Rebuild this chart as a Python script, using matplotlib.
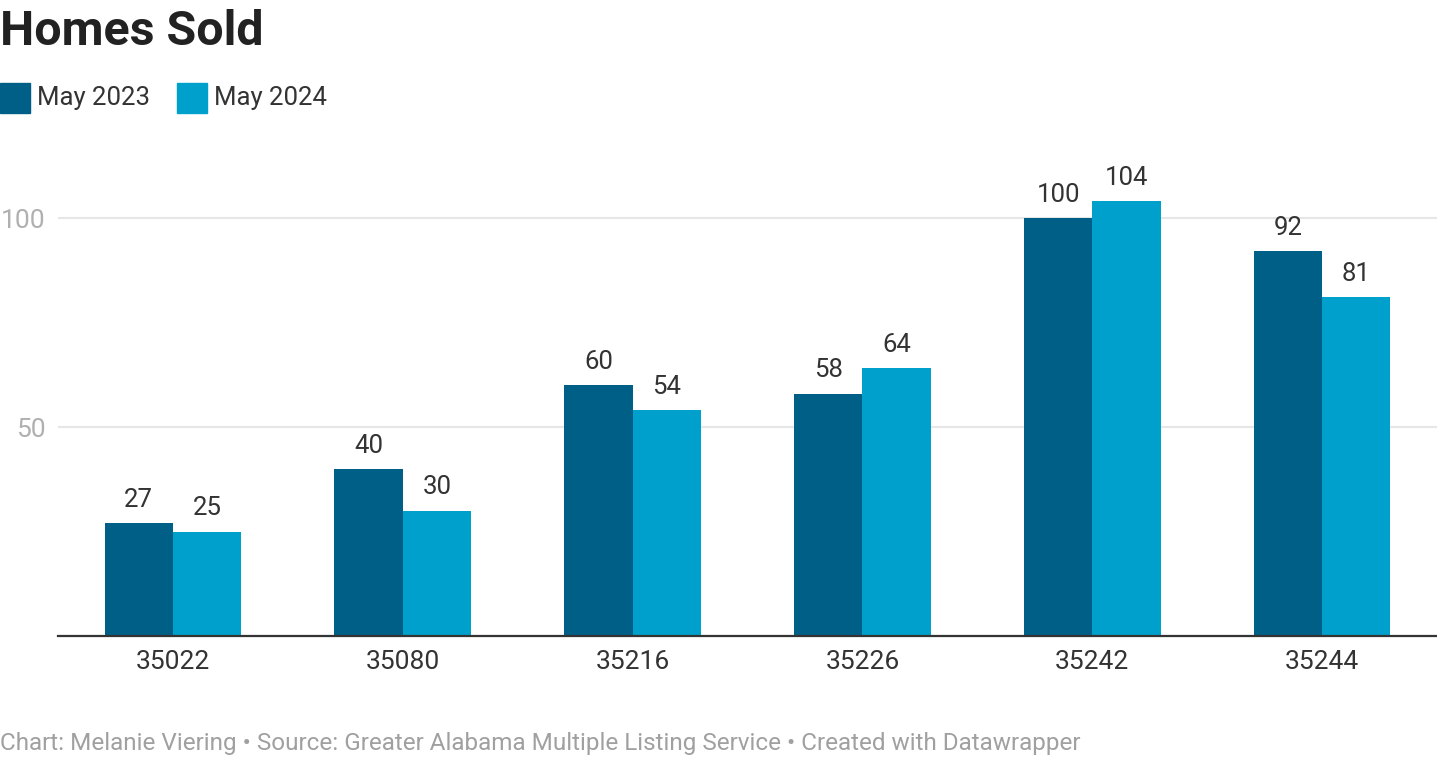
import matplotlib
matplotlib.use("Agg")
import numpy as np
import matplotlib.pyplot as plt
from matplotlib.patches import Rectangle

# Data
zips = ["35022", "35080", "35216", "35226", "35242", "35244"]
sold_2023 = [27, 40, 60, 58, 100, 92]
sold_2024 = [25, 30, 54, 64, 104, 81]
series_names = ["May 2023", "May 2024"]
yticks = [50, 100]

dark = "#005f87"
light = "#00a0cc"
text_col = "#333333"

plt.rcParams['font.family'] = ['Roboto', 'DejaVu Sans']

W, H = 1437, 759
fig = plt.figure(figsize=(W / 100, H / 100), dpi=100)
ax = fig.add_axes([58 / W, 1 - 636 / H, 1 - 58 / W, (636 - 155.3) / H])

x = np.arange(len(zips))
bw = 0.297
b1 = ax.bar(x - bw / 2, sold_2023, bw, color=dark, zorder=3)
b2 = ax.bar(x + bw / 2, sold_2024, bw, color=light, zorder=3)

for bars, vals in ((b1, sold_2023), (b2, sold_2024)):
    for r, v in zip(bars, vals):
        ax.annotate(str(v), (r.get_x() + r.get_width() / 2, v),
                    xytext=(0, 8), textcoords="offset points",
                    ha="center", va="bottom", fontsize=18.5, color=text_col)

ax.set_xlim(-0.5, len(zips) - 0.5)
ax.set_ylim(0, 115)
ax.set_xticks(x)
ax.set_xticklabels(zips)
ax.set_yticks(yticks)
ax.tick_params(axis="x", length=0, pad=10, labelsize=19, labelcolor=text_col)
ax.tick_params(axis="y", length=0, pad=9, labelsize=19, labelcolor="#b0b0b0")
ax.grid(axis="y", color="#e6e6e6", linewidth=1.5, zorder=0)
for s in ["top", "right", "left"]:
    ax.spines[s].set_visible(False)
ax.spines["bottom"].set_color("#333333")
ax.spines["bottom"].set_linewidth(1.6)
ax.spines["bottom"].set_zorder(4)

# Title
fig.text(0, 1 - 45 / H, "Homes Sold", fontsize=34.8, fontweight="bold",
         color="#222222", ha="left", va="baseline")

# Legend
for i, (name, col) in enumerate(zip(series_names, [dark, light])):
    x0 = [0, 177][i]
    fig.patches.append(Rectangle((x0 / W, 1 - 113 / H), 30 / W, 30 / H,
                                 transform=fig.transFigure, color=col))
    fig.text((x0 + 37) / W, 1 - 105 / H, name, fontsize=18.5, color=text_col,
             ha="left", va="baseline")

# Footer
fig.text(0, 1 - 750 / H,
         "Chart: Melanie Viering \u2022 Source: Greater Alabama Multiple Listing Service \u2022 Created with Datawrapper",
         fontsize=17.5, color="#a0a0a0", ha="left", va="baseline")

fig.savefig("out.png", dpi=100)
